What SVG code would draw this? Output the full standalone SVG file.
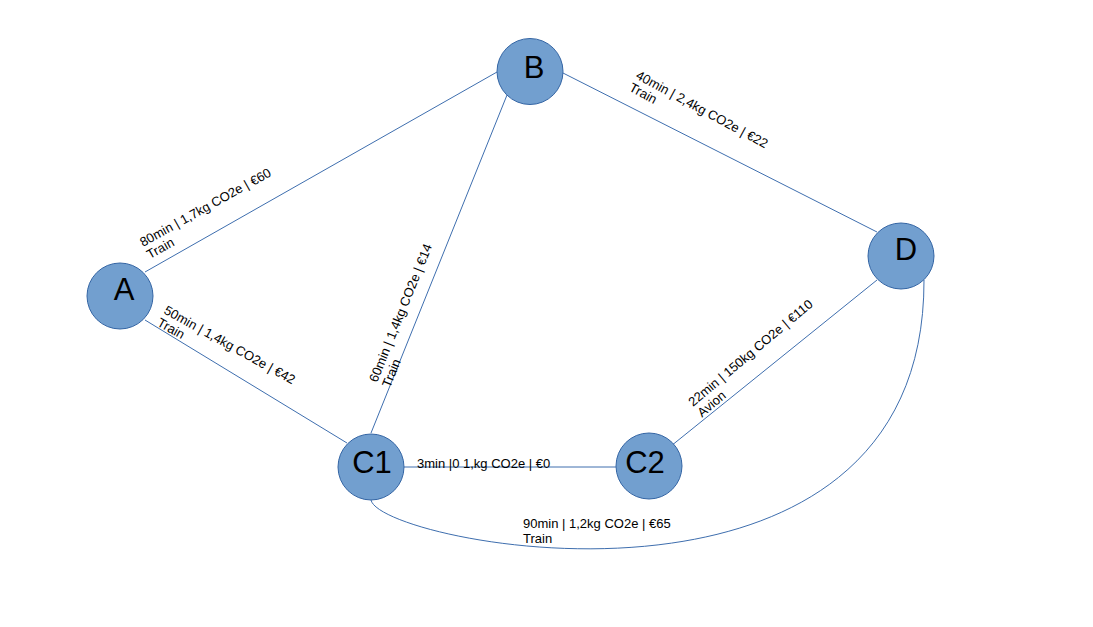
<svg xmlns="http://www.w3.org/2000/svg" width="1093" height="627" viewBox="0 0 1093 627">
<style>
.edge{fill:none;stroke:#3e6eae;stroke-width:1}
.node circle{fill:#729fcf;stroke:#3465a4;stroke-width:1}
.node text{font-family:"Liberation Sans",Arial,sans-serif;font-size:31px;fill:#000;text-anchor:middle}
.lbl{font-family:"Liberation Sans",Arial,sans-serif;font-size:13px;fill:#000}
</style>
<rect width="1093" height="627" fill="#ffffff"/>
<g id="connectors">
<line class="edge" x1="145" y1="272" x2="497" y2="72"/>
<line class="edge" x1="145" y1="320" x2="347" y2="443"/>
<line class="edge" x1="507" y1="95" x2="371" y2="433"/>
<line class="edge" x1="563" y1="73" x2="877" y2="232"/>
<line class="edge" x1="404" y1="467" x2="616" y2="467"/>
<line class="edge" x1="671" y1="446" x2="877" y2="280"/>
<path class="edge" d="M371,500 C380,545 925,650 924,280"/>
</g>
<g id="labels">
<text class="lbl" transform="translate(143,247) rotate(-29)"><tspan x="0" y="0">80min | 1,7kg CO2e | €60</tspan><tspan x="0" y="14">Train</tspan></text>
<text class="lbl" transform="translate(163,313) rotate(29)"><tspan x="0" y="0">50min | 1,4kg CO2e | €42</tspan><tspan x="0" y="14">Train</tspan></text>
<text class="lbl" transform="translate(377,383) rotate(-68)"><tspan x="0" y="0">60min | 1,4kg CO2e | €14</tspan><tspan x="0" y="14">Train</tspan></text>
<text class="lbl" transform="translate(635,78) rotate(28.5)"><tspan x="0" y="0">40min | 2,4kg CO2e | €22</tspan><tspan x="0" y="14">Train</tspan></text>
<text class="lbl" transform="translate(693,407) rotate(-40)"><tspan x="0" y="0">22min | 150kg CO2e | €110</tspan><tspan x="0" y="14">Avion</tspan></text>
<text class="lbl" x="417" y="468">3min |0 1,kg CO2e | €0</text>
<text class="lbl"><tspan x="523" y="528">90min | 1,2kg CO2e | €65</tspan><tspan x="523" y="543">Train</tspan></text>
</g>
<g id="node-A" class="node"><circle cx="120" cy="296" r="33"/><text x="124" y="300">A</text></g>
<g id="node-B" class="node"><circle cx="530" cy="71.5" r="33"/><text x="534" y="78">B</text></g>
<g id="node-C1" class="node"><circle cx="371" cy="467" r="33"/><text x="372" y="473">C1</text></g>
<g id="node-C2" class="node"><circle cx="649" cy="466" r="33"/><text x="645" y="473">C2</text></g>
<g id="node-D" class="node"><circle cx="901" cy="256" r="33"/><text x="906" y="260">D</text></g>
</svg>
